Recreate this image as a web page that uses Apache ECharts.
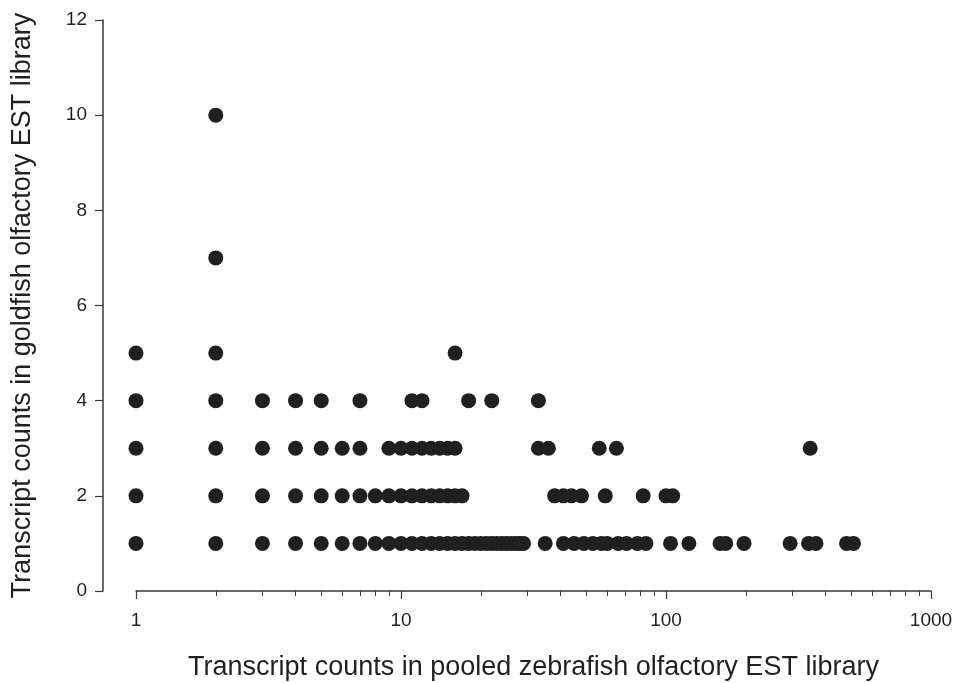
<!DOCTYPE html>
<html>
<head>
<meta charset="utf-8">
<script src="https://cdn.jsdelivr.net/npm/echarts@6/dist/echarts.min.js"></script>
<style>
html,body{margin:0;padding:0;background:#fff;overflow:hidden;}
#chart{width:955px;height:683px;}
</style>
</head>
<body>
<div id="chart"></div>
<script>
// Goldfish count levels (y) and zebrafish counts (x) observed at each level
const goldfish1 = [1,2,3,4,5,6,7,8,9,10,11,12,13,14,15,16,17,18,19,20,21,22,23,24,25,26,27,28,29,35,41,45,49,53,57,60,66,71,78,84,104,122,160,168,197,294,345,368,480,510];
const goldfish2 = [1,2,3,4,5,6,7,8,9,10,11,12,13,14,15,16,17,38,41,44,48,59,82,100,106];
const goldfish3 = [1,2,3,4,5,6,7,9,10,11,12,13,14,15,16,33,36,56,65,350];
const goldfish4 = [1,2,3,4,5,7,11,12,18,22,33];
const goldfish5 = [1,2,16];
const goldfish7 = [2];
const goldfish10 = [2];

const xMajorTicks = [1,10,100,1000];
const xMinorTicks = [2,3,4,5,6,7,8,9,20,30,40,50,60,70,80,90,200,300,400,500,600,700,800,900];
const yTicks = [0,2,4,6,8,10,12];

const levels = [
  [1, goldfish1],[2, goldfish2],[3, goldfish3],[4, goldfish4],
  [5, goldfish5],[7, goldfish7],[10, goldfish10]
];
const points = [];
levels.forEach(([y, xs]) => xs.forEach(x => points.push([x, y])));

const textColor = '#231f20';
const fontFam = '"Liberation Sans", Arial, sans-serif';

const chart = echarts.init(document.getElementById('chart'), null, {renderer:'canvas'});
chart.setOption({
  animation:false,
  backgroundColor:'#ffffff',
  grid:{left:136, right:24, top:20, bottom:92, containLabel:false, outerBoundsMode:'none'},
  xAxis:[{
    type:'log', logBase:10, min:1, max:1000,
    name:'Transcript counts in pooled zebrafish olfactory EST library',
    nameLocation:'middle', nameGap:63,
    nameTextStyle:{fontSize:27, color:textColor, fontFamily:fontFam},
    axisLine:{show:true, lineStyle:{color:'#3a3a3a', width:1.5}},
    axisTick:{show:true, length:8, lineStyle:{color:'#3a3a3a', width:1.2}, customValues:xMajorTicks},
    axisLabel:{fontSize:19, color:textColor, fontFamily:fontFam, margin:20, customValues:xMajorTicks,
      formatter: v => String(Math.round(v))},
    splitLine:{show:false}
  },{
    type:'log', logBase:10, min:1, max:1000, gridIndex:0, position:'bottom',
    axisLine:{show:false},
    axisTick:{show:true, length:5, lineStyle:{color:'#3a3a3a', width:1}, customValues:xMinorTicks},
    axisLabel:{show:false},
    splitLine:{show:false}
  }],
  yAxis:{
    type:'value', min:0, max:12, interval:2, offset:33,
    name:'Transcript counts in goldfish olfactory EST library',
    nameLocation:'middle', nameGap:67, nameRotate:90,
    nameTextStyle:{fontSize:27, color:textColor, fontFamily:fontFam},
    axisLine:{show:true, lineStyle:{color:'#3a3a3a', width:1.5}},
    axisTick:{show:true, length:8, lineStyle:{color:'#3a3a3a', width:1.2}},
    axisLabel:{fontSize:19, color:textColor, fontFamily:fontFam, margin:16,
      formatter: v => yTicks.indexOf(v) >= 0 ? String(v) : ''},
    splitLine:{show:false}
  },
  series:[{
    type:'scatter', xAxisIndex:0, yAxisIndex:0,
    data:points, symbol:'circle', symbolSize:15,
    itemStyle:{color:'#231f20', opacity:1}
  }]
});
</script>
</body>
</html>
